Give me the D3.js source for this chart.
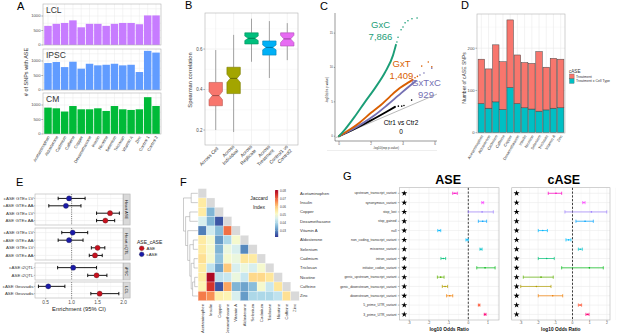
<!DOCTYPE html>
<html>
<head>
<meta charset="utf-8">
<script src="https://cdn.jsdelivr.net/npm/d3@7/dist/d3.min.js"></script>
<style>
body { margin: 0; background: #fff; }
svg { display: block; font-family: "Liberation Sans", Arial, sans-serif; }
</style>
</head>
<body>
<div id="fig"></div>
<script>
// ---------- data: panel A (# SNPs with ASE per treatment) ----------
var aCategories = ["Acetaminophen","Aldosterone","Cadmium","Caffeine","Copper","Dexamethasone","Insulin",
                   "Nicotine","Selenium","Triclosan","Vitamin A","Zinc","Control 1","Control 2"];
var aseLCL  = [660,730,760,850,610,730,730,660,730,760,760,716,1020,1020];
var aseIPSC = [930,965,790,975,735,905,850,870,905,850,870,620,1350,1290];
var aseCM   = [910,886,775,965,852,852,886,795,965,852,830,852,1270,966];

// ---------- panel B (Spearman correlation boxplots) ----------
var bCategories = ["Across Cell","Across\nIndividual","Across\nReplicate","Across\nTreatment","Control1 vs\nControl2"];
var bLow   = [0.200,0.190,0.537,0.457,0.545];
var bQ1    = [0.320,0.380,0.625,0.570,0.615];
var bMed   = [0.370,0.455,0.653,0.608,0.650];
var bQ3    = [0.435,0.510,0.680,0.640,0.680];
var bHigh  = [0.595,0.670,0.750,0.738,0.728];
var bNotch = [0.020,0.020,0.011,0.012,0.018];

var qqGxC   = [[0,0],[0.38,1.0],[1.0,2.9],[1.63,5.0],[2.25,7.0],[2.88,9.3],[3.38,11.8],[3.56,13.3]];
var qqGxCtail = [[3.62,13.7],[3.69,14.4],[3.88,15.5],[4.0,15.9],[4.13,16.5],[4.31,16.8],[4.56,17.1],[4.88,17.2]];
var qqGxT   = [[0,0],[0.7,1.0],[1.3,2.0],[2.0,3.4],[2.6,4.5],[3.2,5.8],[3.8,7.0],[4.4,7.9],[4.6,8.2]];
var qqGxTtail = [[4.75,8.5],[4.9,8.7],[5.17,10.2],[5.58,10.8],[5.8,10.1]];
var qqGxTxC = [[0,0],[0.8,0.95],[1.5,1.9],[2.2,3.0],[3.0,4.5],[3.7,5.9],[4.3,7.1],[4.8,8.0]];
var qqGxTxCtail = [[5.06,8.9],[5.31,9.2],[5.8,9.9]];
var qqCtr   = [[0,0],[1.0,1.1],[2.0,2.3],[3.0,3.6],[3.5,4.27]];
var qqCtrTail = [[3.71,4.37],[3.92,4.37],[4.06,4.47],[4.54,5.25]];
var qqLabels = [["GxC","7,866"],["GxT","1,409"],["GxTxC","929"],["Ctr1 vs Ctr2","0"]];

// ---------- panel D (cASE SNPs, stacked) ----------
var dCategories = ["Acetaminophen","Aldosterone","Cadmium","Caffeine","Copper","Dexamethasone","Insulin",
                   "Nicotine","Selenium","Triclosan","Vitamin A","Zinc"];
var dCellType  = [69,58,73,55,107,69,59,56,51,54,58,59];
var dTreatment = [105,93,135,113,160,115,107,108,141,101,118,115];

// ---------- panel E (enrichment, 95% CI) ----------
var eFacets = ["Heart ASE","Heart eQTL","iPSC","LCL"];
var eLabels = ["cASE GTEx LV","cASE GTEx AA","ASE GTEx LV","ASE GTEx AA",
               "cASE GTEx LV","cASE GTEx AA","ASE GTEx LV","ASE GTEx AA",
               "cASE i2QTL","ASE i2QTL","cASE Geuvadis","ASE Geuvadis"];
var eFacetOf = [0,0,0,0,1,1,1,1,2,2,3,3];
var eType = ["cASE","cASE","ASE","ASE","cASE","cASE","ASE","ASE","cASE","ASE","cASE","ASE"];
var eEst = [0.95,0.89,1.74,1.65,1.02,0.95,1.50,1.45,1.03,1.48,0.55,1.54];
var eLo  = [0.74,0.56,1.48,1.48,0.81,0.74,1.38,1.34,0.73,1.31,0.36,1.37];
var eHi  = [1.26,1.18,1.92,1.83,1.31,1.22,1.64,1.59,1.48,1.68,0.87,1.91];

// ---------- panel F (Jaccard index, lower triangle) ----------
var fNames = ["Acetaminophen","Insulin","Copper","Dexamethasone","Vitamin A","Aldosterone",
              "Selenium","Cadmium","Triclosan","Nicotine","Caffeine","Zinc"];
var fValues = [
  [],
  [0.055],
  [0.055,0.035],
  [0.045,0.035,0.025],
  [0.029,0.044,0.036,0.069],
  [0.055,0.050,0.032,0.040,0.050],
  [0.055,0.050,0.035,0.048,0.045,0.030],
  [0.057,0.050,0.037,0.050,0.048,0.056,0.055],
  [0.055,0.042,0.033,0.060,0.045,0.048,0.045,0.050],
  [0.055,0.080,0.042,0.043,0.048,0.043,0.058,0.058,0.056],
  [0.053,0.075,0.025,0.064,0.035,0.033,0.036,0.050,0.043,0.056],
  [0.068,0.066,0.054,0.053,0.045,0.032,0.040,0.040,0.040,0.042,0.057]
];
var fLegendTicks = [0.03,0.04,0.05,0.06,0.07,0.08];
var fTree = {h: 1.0, children: [
  {h: 0.45, children: ["Acetaminophen","Insulin"]},
  {h: 0.85, children: [
    {h: 0.55, children: ["Copper","Dexamethasone"]},
    {h: 0.7, children: ["Vitamin A",
      {h: 0.55, children: [
        {h: 0.3, children: ["Aldosterone","Selenium"]},
        {h: 0.45, children: [
          {h: 0.25, children: ["Cadmium","Triclosan"]},
          {h: 0.35, children: [{h: 0.2, children: ["Nicotine","Caffeine"]}, "Zinc"]}
        ]}
      ]}
    ]}
  ]}
]};

// ---------- panel G (log10 odds ratio by variant class) ----------
var gTerms = ["upstream_transcript_variant","synonymous_variant","stop_lost","stop_gained","null",
              "non_coding_transcript_variant","missense_variant","intron_variant","initiator_codon_variant",
              "genic_upstream_transcript_variant","genic_downstream_transcript_variant",
              "downstream_transcript_variant","5_prime_UTR_variant","3_prime_UTR_variant"];
var aseEst  = [-0.68,0.73,0.70,0.73,-1.47,-0.06,0.64,-1.27,0.85,-1.40,-1.18,-0.94,0.55,0.85];
var aseLo   = [-0.79,0.68,0.00,0.51,-1.55,-0.12,0.59,-1.39,0.43,-1.57,-1.32,-1.10,0.51,0.81];
var aseHi   = [-0.56,0.78,1.27,0.93,-1.40,0.00,0.70,-1.15,1.36,-1.23,-1.05,-0.79,0.59,0.90];
var caseEst = [-0.96,0.66,1.10,0.73,-1.73,-0.23,0.45,-1.50,0.98,-1.83,-2.10,-1.15,0.44,0.87];
var caseLo  = [-1.41,0.59,-0.44,0.20,-1.99,-0.38,0.34,-1.99,-0.63,-2.86,-3.01,-1.99,0.34,0.78];
var caseHi  = [-0.63,0.73,1.99,1.21,-1.46,-0.09,0.57,-1.06,1.79,-1.12,-1.25,-0.57,0.53,0.96];
var gStarAt = -3.25;

// ======================================================================
var svg = d3.select("#fig").append("svg").attr("width", 617).attr("height", 333);
var GRID = "#ebebeb", BORDER = "#b3b3b3", TICK = "#4d4d4d";

function label(g, x, y, s, size, anchor, fill, weight) {
  return g.append("text").attr("x", x).attr("y", y).attr("font-size", size)
    .attr("text-anchor", anchor || "start").attr("fill", fill || "#000")
    .attr("font-weight", weight || "normal").text(s);
}
function hline(g, x1, x2, y, col, w) {
  return g.append("line").attr("x1", x1).attr("x2", x2).attr("y1", y).attr("y2", y)
    .attr("stroke", col).attr("stroke-width", w);
}
function vline(g, x, y1, y2, col, w) {
  return g.append("line").attr("x1", x).attr("x2", x).attr("y1", y1).attr("y2", y2)
    .attr("stroke", col).attr("stroke-width", w);
}

// panel letters
[["A",17,10],["B",185,9],["C",320,10],["D",461,9],["E",16,186],["F",180,186],["G",343,180]].forEach(function(p) {
  label(svg, p[1], p[2], p[0], 11);
});

// ---------------- A ----------------
(function() {
  var ax = d3.scaleLinear().domain([0.4, aCategories.length + 0.6]).range([43, 161]);
  var unit = ax(2) - ax(1);
  var facets = [
    {name: "LCL", values: aseLCL, fill: "#C77CFF", top: 4, bottom: 45},
    {name: "IPSC", values: aseIPSC, fill: "#619CFF", top: 49, bottom: 90},
    {name: "CM", values: aseCM, fill: "#00BA38", top: 93, bottom: 134}
  ];
  facets.forEach(function(f) {
    var y = d3.scaleLinear().domain([0, 1414]).range([f.bottom, f.top]);
    var g = svg.append("g");
    g.append("rect").attr("x", 43).attr("y", f.top).attr("width", 118).attr("height", f.bottom - f.top).attr("fill", "#fff");
    aCategories.forEach(function(c, i) { vline(g, ax(i + 1), f.top, f.bottom, GRID, 0.5); });
    [250, 500, 750, 1000, 1250].forEach(function(v) { hline(g, 43, 161, y(v), GRID, 0.5); });
    g.selectAll("rect.bar").data(f.values).enter().append("rect")
      .attr("x", function(d, i) { return ax(i + 1) - unit * 0.45; })
      .attr("width", unit * 0.9)
      .attr("y", function(d) { return y(d); })
      .attr("height", function(d) { return y(0) - y(d); })
      .attr("fill", f.fill);
    g.append("rect").attr("x", 43).attr("y", f.top).attr("width", 118).attr("height", f.bottom - f.top)
      .attr("fill", "none").attr("stroke", BORDER).attr("stroke-width", 0.6);
    label(g, 46, f.top + 9, f.name, 8.5, "start", "#333");
    [0, 500, 1000].forEach(function(v) {
      hline(g, 41.3, 43, y(v), TICK, 0.4);
      label(g, 40.5, y(v) + 1.4, v, 4.2, "end", TICK);
    });
  });
  svg.append("g").selectAll("text").data(aCategories).enter().append("text")
    .attr("transform", function(d, i) { return "translate(" + (ax(i + 1) + 2) + ",137) rotate(-60)"; })
    .attr("text-anchor", "end").attr("font-size", 4.2).attr("fill", "#333").text(function(d) { return d; });
  svg.append("text").attr("transform", "translate(28,72) rotate(-90)").attr("text-anchor", "middle")
    .attr("font-size", 5.5).attr("fill", "#333").text("# of SNPs with ASE");
})();

// ---------------- B ----------------
(function() {
  var fills = ["#F8766D", "#A3A500", "#00BF7D", "#00B0F6", "#E76BF3"];
  var bx = d3.scaleLinear().domain([0.4, bCategories.length + 0.6]).range([205, 298]);
  var by = d3.scaleLinear().domain([0.126, 0.778]).range([145, 13]);
  var g = svg.append("g");
  g.append("rect").attr("x", 205).attr("y", 13).attr("width", 93).attr("height", 132).attr("fill", "#fff");
  [0.3, 0.5, 0.7].forEach(function(v) { hline(g, 205, 298, by(v), "#f3f3f3", 0.4); });
  [0.2, 0.4, 0.6].forEach(function(v) { hline(g, 205, 298, by(v), GRID, 0.6); });
  bCategories.forEach(function(c, i) { vline(g, bx(i + 1), 13, 145, GRID, 0.6); });
  var half = (bx(2) - bx(1)) * 0.375;
  bCategories.forEach(function(c, i) {
    var cx = bx(i + 1), l = cx - half, r = cx + half, inset = half * 0.5;
    vline(g, cx, by(bHigh[i]), by(bQ3[i]), "#999", 0.9);
    vline(g, cx, by(bQ1[i]), by(bLow[i]), "#999", 0.9);
    var m = by(bMed[i]), nlo = by(bMed[i] - bNotch[i]), nhi = by(bMed[i] + bNotch[i]);
    var pts = [[l, by(bQ1[i])], [r, by(bQ1[i])], [r, nlo], [r - inset, m], [r, nhi], [r, by(bQ3[i])],
               [l, by(bQ3[i])], [l, nhi], [l + inset, m], [l, nlo]];
    g.append("polygon").attr("points", pts.map(function(p) { return p.join(","); }).join(" "))
      .attr("fill", fills[i]).attr("stroke", d3.color(fills[i]).darker(0.8)).attr("stroke-width", 0.6);
    hline(g, l + inset, r - inset, m, d3.color(fills[i]).darker(1.6), 0.8);
  });
  g.append("rect").attr("x", 205).attr("y", 13).attr("width", 93).attr("height", 132)
    .attr("fill", "none").attr("stroke", BORDER).attr("stroke-width", 0.6);
  [0.2, 0.4, 0.6].forEach(function(v) {
    hline(g, 203.3, 205, by(v), TICK, 0.4);
    label(g, 202.5, by(v) + 1.5, v.toFixed(1), 4.5, "end", TICK);
  });
  bCategories.forEach(function(c, i) {
    var t = g.append("text").attr("transform", "translate(" + (bx(i + 1) + 3) + ",149) rotate(-45)")
      .attr("text-anchor", "end").attr("font-size", 4.8).attr("fill", "#333");
    var lines = c.split("\n");
    lines.forEach(function(s, k) {
      t.append("tspan").attr("x", 0).attr("dy", k === 0 ? (lines.length > 1 ? -2.8 : 0) : 5.6).text(s);
    });
  });
  svg.append("text").attr("transform", "translate(192,80) rotate(-90)").attr("text-anchor", "middle")
    .attr("font-size", 5.8).attr("fill", "#333").text("Spearman correlation");
})();

// ---------------- C ----------------
(function() {
  var cx = d3.scaleLinear().domain([-0.25, 6.125]).range([335, 437]);
  var cy = d3.scaleLinear().domain([-0.7, 17.93]).range([141, 13]);
  var g = svg.append("g");
  var line = d3.line().x(function(d) { return cx(d[0]); }).y(function(d) { return cy(d[1]); }).curve(d3.curveMonotoneX);
  g.append("line").attr("x1", cx(-0.2)).attr("y1", cy(-0.2)).attr("x2", cx(6.12)).attr("y2", cy(6.12))
    .attr("stroke", "#888").attr("stroke-width", 0.6);
  var series = [
    {line: qqCtr, tail: qqCtrTail, col: "#000"},
    {line: qqGxTxC, tail: qqGxTxCtail, col: "#7570B3"},
    {line: qqGxT, tail: qqGxTtail, col: "#D95F02"},
    {line: qqGxC, tail: qqGxCtail, col: "#1B9E77"}
  ];
  series.forEach(function(s) {
    g.append("path").attr("d", line(s.line)).attr("fill", "none").attr("stroke", s.col)
      .attr("stroke-width", 1.9).attr("stroke-linecap", "round");
    g.selectAll(null).data(s.tail).enter().append("circle")
      .attr("cx", function(d) { return cx(d[0]); }).attr("cy", function(d) { return cy(d[1]); })
      .attr("r", 0.8).attr("fill", s.col);
  });
  vline(g, 335, 13, 141, "#333", 0.5);
  hline(g, 335, 437, 141, "#333", 0.5);
  [0, 5, 10, 15].forEach(function(v) {
    hline(g, 333.8, 335, cy(v), "#333", 0.4);
    label(g, 333, cy(v) + 1, v, 3, "end", TICK);
  });
  [0, 2, 4, 6].forEach(function(v) {
    vline(g, cx(v), 141, 142.2, "#333", 0.4);
    label(g, cx(v), 145, v, 3, "middle", TICK);
  });
  svg.append("text").attr("transform", "translate(328,90) rotate(-90)").attr("text-anchor", "middle")
    .attr("font-size", 3).attr("fill", "#333").text("-log10(obs p-value)");
  label(svg, 386, 148.5, "-log10(exp p-value)", 3, "middle", "#333");
  hline(svg, 327, 437, 150.5, "#e2e2e2", 0.6);
  var pos = [[380.5, 27.5, 39.5, "#1B9E77"], [401.5, 67, 79, "#D95F02"], [426, 86, 97.5, "#7570B3"], [401, 124.5, 133.5, "#000"]];
  qqLabels.forEach(function(l, i) {
    var p = pos[i], fs = i === 3 ? 6.5 : 9.5;
    label(svg, p[0], p[1], l[0], fs, "middle", p[3]);
    label(svg, p[0], p[2], l[1], fs, "middle", p[3]);
  });
})();

// ---------------- D ----------------
(function() {
  var dx = d3.scaleLinear().domain([0.4, dCategories.length + 0.6]).range([477, 565]);
  var dy = d3.scaleLinear().domain([-0.7, 281]).range([133, 14]);
  var unit = dx(2) - dx(1);
  var g = svg.append("g");
  g.append("rect").attr("x", 477).attr("y", 14).attr("width", 88).attr("height", 119).attr("fill", "#fff");
  [50, 150, 250].forEach(function(v) { hline(g, 477, 565, dy(v), "#f3f3f3", 0.4); });
  [0, 100, 200].forEach(function(v) { hline(g, 477, 565, dy(v), GRID, 0.6); });
  dCategories.forEach(function(c, i) { vline(g, dx(i + 1), 14, 133, GRID, 0.6); });
  var rows = dCategories.map(function(c, i) { return {cell: dCellType[i], treat: dTreatment[i]}; });
  var stack = d3.stack().keys(["cell", "treat"])(rows);
  var fills = {cell: "#00BFC4", treat: "#F8766D"};
  stack.forEach(function(layer) {
    g.selectAll(null).data(layer).enter().append("rect")
      .attr("x", function(d, i) { return dx(i + 1) - unit * 0.45; })
      .attr("width", unit * 0.9)
      .attr("y", function(d) { return dy(d[1]); })
      .attr("height", function(d) { return dy(d[0]) - dy(d[1]); })
      .attr("fill", fills[layer.key]).attr("stroke", "#444").attr("stroke-width", 0.5);
  });
  g.append("rect").attr("x", 477).attr("y", 14).attr("width", 88).attr("height", 119)
    .attr("fill", "none").attr("stroke", BORDER).attr("stroke-width", 0.6);
  [0, 100, 200].forEach(function(v) {
    hline(g, 475.4, 477, dy(v), TICK, 0.4);
    label(g, 474.6, dy(v) + 1.4, v, 4.2, "end", TICK);
  });
  g.selectAll(null).data(dCategories).enter().append("text")
    .attr("transform", function(d, i) { return "translate(" + (dx(i + 1) + 2) + ",136) rotate(-60)"; })
    .attr("text-anchor", "end").attr("font-size", 3.9).attr("fill", "#333").text(function(d) { return d; });
  svg.append("text").attr("transform", "translate(466,78) rotate(-90)").attr("text-anchor", "middle")
    .attr("font-size", 5).attr("fill", "#333").text("Number of cASE SNPs");
  label(svg, 569, 72.5, "cASE", 4.6, "start", "#333");
  [["Treatment", "#F8766D"], ["Treatment x Cell Type", "#00BFC4"]].forEach(function(k, i) {
    svg.append("rect").attr("x", 569.5).attr("y", 74 + i * 4.8).attr("width", 4.6).attr("height", 4.6)
      .attr("fill", k[1]).attr("stroke", "#444").attr("stroke-width", 0.3);
    label(svg, 576, 77.6 + i * 4.8, k[0], 3.5, "start", "#333");
  });
})();

// ---------------- E ----------------
(function() {
  var ex = d3.scaleLinear().domain([0.294, 1.99]).range([35, 123]);
  var boxes = [[194, 225], [228, 260], [263, 280], [282, 298]];
  var g = svg.append("g");
  eFacets.forEach(function(name, f) {
    var top = boxes[f][0], bottom = boxes[f][1];
    var idx = eFacetOf.map(function(v, i) { return v === f ? i : -1; }).filter(function(i) { return i >= 0; });
    var ey = d3.scaleLinear().domain([0.4, idx.length + 0.6]).range([top, bottom]);
    g.append("rect").attr("x", 35).attr("y", top).attr("width", 88).attr("height", bottom - top).attr("fill", "#fff");
    [0.75, 1.25, 1.75].forEach(function(v) { vline(g, ex(v), top, bottom, "#f3f3f3", 0.4); });
    [0.5, 1.0, 1.5].forEach(function(v) { vline(g, ex(v), top, bottom, GRID, 0.6); });
    idx.forEach(function(r, k) { hline(g, 35, 123, ey(k + 1), GRID, 0.6); });
    vline(g, ex(1), top, bottom, "#444", 0.7).attr("stroke-dasharray", "1,1.2");
    idx.forEach(function(r, k) {
      var yy = ey(k + 1);
      hline(g, ex(eLo[r]), ex(eHi[r]), yy, "#000", 0.9);
      vline(g, ex(eLo[r]), yy - 1.7, yy + 1.7, "#000", 0.9);
      vline(g, ex(eHi[r]), yy - 1.7, yy + 1.7, "#000", 0.9);
      g.append("circle").attr("cx", ex(eEst[r])).attr("cy", yy).attr("r", 2.6)
        .attr("fill", eType[r] === "ASE" ? "#C8101E" : "#1A1AA8").attr("stroke", "#333").attr("stroke-width", 0.3);
      label(g, 33.5, yy + 1.5, eLabels[r], 4.4, "end", "#333");
      hline(g, 33.8, 35, yy, TICK, 0.4);
    });
    g.append("rect").attr("x", 35).attr("y", top).attr("width", 88).attr("height", bottom - top)
      .attr("fill", "none").attr("stroke", BORDER).attr("stroke-width", 0.6);
    g.append("rect").attr("x", 123.3).attr("y", top).attr("width", 6.8).attr("height", bottom - top)
      .attr("fill", "#d9d9d9").attr("stroke", BORDER).attr("stroke-width", 0.6);
    g.append("text").attr("transform", "translate(125.3," + ((top + bottom) / 2) + ") rotate(90)")
      .attr("text-anchor", "middle").attr("font-size", 4.2).attr("fill", "#1a1a1a").text(name);
  });
  [0.5, 1.0, 1.5, 2.0].forEach(function(v) {
    vline(g, ex(v), 298, 299.4, TICK, 0.4);
    label(g, ex(v), 303.5, v.toFixed(1), 4.8, "middle", TICK);
  });
  label(g, 79, 311, "Enrichment (95% CI)", 5.8, "middle", "#222");
  label(g, 137, 243.5, "ASE_cASE", 5, "start", "#222");
  [["ASE", "#C8101E"], ["cASE", "#1A1AA8"]].forEach(function(k, i) {
    g.append("circle").attr("cx", 141.7).attr("cy", 248.3 + i * 6).attr("r", 2.4)
      .attr("fill", k[1]).attr("stroke", "#333").attr("stroke-width", 0.3);
    label(g, 146.5, 250 + i * 6, k[0], 4.4, "start", "#222");
  });
})();

// ---------------- F ----------------
(function() {
  var n = fNames.length;
  var fx = d3.scaleLinear().domain([0, n - 1]).range([202.3, 295]);
  var fy = d3.scaleLinear().domain([0, n - 1]).range([193.3, 296]);
  var cw = fx(1) - fx(0), ch = fy(1) - fy(0);
  var color = d3.scaleSequential(function(t) { return d3.interpolateRdYlBu(1 - t); }).domain([0.022, 0.081]);
  var g = svg.append("g");
  fNames.forEach(function(name, i) {
    fValues[i].forEach(function(v, j) {
      g.append("rect").attr("x", fx(j) - cw / 2).attr("y", fy(i) - ch / 2).attr("width", cw).attr("height", ch)
        .attr("fill", color(v)).attr("stroke", "#fff").attr("stroke-width", 0.25);
    });
    g.append("rect").attr("x", fx(i) - cw / 2).attr("y", fy(i) - ch / 2).attr("width", cw).attr("height", ch)
      .attr("fill", "#d9d9d9").attr("stroke", "#fff").attr("stroke-width", 0.25);
    label(g, 300, fy(i) + 1.4, name, 4.2, "start", "#333");
    g.append("text").attr("transform", "translate(" + (fx(i) + 1.4) + ",304) rotate(-90)")
      .attr("text-anchor", "end").attr("font-size", 4.2).attr("fill", "#333").text(name);
  });
  // dendrogram
  var dend = svg.append("g").attr("stroke", "#999").attr("stroke-width", 0.5);
  function layout(node) {
    if (typeof node === "string") return {x: 197.8, y: fy(fNames.indexOf(node))};
    var kids = node.children.map(layout);
    var px = 197.5 - node.h * 14;
    var ys = kids.map(function(k) { return k.y; });
    vline(dend, px, d3.min(ys), d3.max(ys), "#999", 0.5);
    kids.forEach(function(k) { hline(dend, px, k.x, k.y, "#999", 0.5); });
    return {x: px, y: d3.mean(ys)};
  }
  layout(fTree);
  // legend
  var ly = d3.scaleLinear().domain([0.022, 0.081]).range([237, 190]);
  var defs = svg.append("defs").append("linearGradient").attr("id", "jac").attr("x1", 0).attr("x2", 0).attr("y1", 1).attr("y2", 0);
  d3.range(0, 1.01, 0.1).forEach(function(t) {
    defs.append("stop").attr("offset", t).attr("stop-color", color(0.022 + t * (0.081 - 0.022)));
  });
  svg.append("rect").attr("x", 275).attr("y", 190).attr("width", 3.2).attr("height", 47).attr("fill", "url(#jac)");
  fLegendTicks.forEach(function(v) {
    hline(svg, 275, 275.8, ly(v), "#fff", 0.3);
    hline(svg, 277.4, 278.2, ly(v), "#fff", 0.3);
    label(svg, 280, ly(v) + 1, v.toFixed(2), 3, "start", "#333");
  });
  label(svg, 259, 200, "Jaccard", 5, "middle", "#222");
  label(svg, 259, 208.5, "Index", 5, "middle", "#222");
})();

// ---------------- G ----------------
(function() {
  var gy = d3.scaleLinear().domain([0.4, gTerms.length + 0.6]).range([187.7, 320]);
  var colorOf = function(r) {
    var k = gTerms.length - 1 - r;
    return d3.hcl(15 + 360 * k / gTerms.length, 100, 65).formatHex();
  };
  var star = d3.symbol().type(d3.symbolStar).size(11);
  function drawPanel(x0, x1, domain, ticks, est, lo, hi, title) {
    var gx = d3.scaleLinear().domain(domain).range([x0, x1]);
    var g = svg.append("g");
    g.append("rect").attr("x", x0).attr("y", 187.7).attr("width", x1 - x0).attr("height", 132.3).attr("fill", "#fff");
    ticks.forEach(function(v) {
      vline(g, gx(v), 187.7, 320, GRID, 0.6);
      vline(g, gx(v + 0.5), 187.7, 320, "#f3f3f3", 0.4);
    });
    vline(g, gx(ticks[0] - 0.5), 187.7, 320, "#f3f3f3", 0.4);
    gTerms.forEach(function(t, r) { hline(g, x0, x1, gy(r + 1), GRID, 0.6); });
    vline(g, gx(0), 187.7, 320, "#111", 0.8).attr("stroke-dasharray", "2.2,1.6");
    gTerms.forEach(function(t, r) {
      var yy = gy(r + 1), c = colorOf(r);
      hline(g, gx(lo[r]), gx(hi[r]), yy, c, 0.7);
      vline(g, gx(lo[r]), yy - 1.6, yy + 1.6, c, 0.7);
      vline(g, gx(hi[r]), yy - 1.6, yy + 1.6, c, 0.7);
      g.append("circle").attr("cx", gx(est[r])).attr("cy", yy).attr("r", 0.8).attr("fill", c);
      g.append("path").attr("d", star).attr("transform", "translate(" + gx(gStarAt) + "," + yy + ")").attr("fill", "#000");
    });
    g.append("rect").attr("x", x0).attr("y", 187.7).attr("width", x1 - x0).attr("height", 132.3)
      .attr("fill", "none").attr("stroke", BORDER).attr("stroke-width", 0.6);
    ticks.forEach(function(v) {
      vline(g, gx(v), 320, 321.2, TICK, 0.4);
      label(g, gx(v), 324.2, v, 3.3, "middle", TICK);
    });
    label(g, (x0 + x1) / 2, 330.5, "log10 Odds Ratio", 4.8, "middle", "#111", "bold");
    label(g, (x0 + x1) / 2 + (title === "ASE" ? -1 : 3), 184.3, title, 12.5, "middle", "#000", "bold");
  }
  drawPanel(399.3, 499, [-3.503, 1.558], [-3, -2, -1, 0, 1], aseEst, aseLo, aseHi, "ASE");
  drawPanel(511.7, 610, [-3.535, 2.18], [-3, -2, -1, 0, 1, 2], caseEst, caseLo, caseHi, "cASE");
  var lg = svg.append("g");
  gTerms.forEach(function(t, r) {
    label(lg, 396.5, gy(r + 1) + 1.2, t, 3.4, "end", "#333");
    hline(lg, 397.8, 399.3, gy(r + 1), TICK, 0.4);
  });
})();
</script>
</body>
</html>
